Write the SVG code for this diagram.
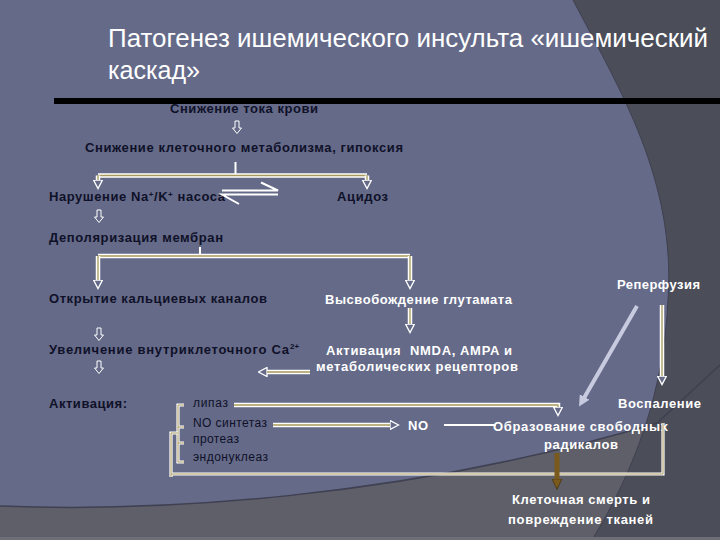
<svg xmlns="http://www.w3.org/2000/svg" width="720" height="540" viewBox="0 0 720 540">
<defs>
<style>
.dk{font-family:"Liberation Sans",Arial,sans-serif;font-weight:bold;font-size:13px;fill:#0f1128}
.wt{font-family:"Liberation Sans",Arial,sans-serif;font-weight:bold;font-size:13px;fill:#ffffff}
.it{font-family:"Liberation Sans",Arial,sans-serif;font-size:12px;fill:#0f1128}
.sup{font-family:"Liberation Sans",Arial,sans-serif;font-weight:bold;font-size:8px;fill:#0f1128}
.ttl{font-family:"Liberation Sans Narrow","Liberation Sans",Arial,sans-serif;font-size:25px;fill:#ffffff}
.o{fill:none;stroke:#ffffff;stroke-width:4.5}
.c{fill:none;stroke:#a8985a;stroke-width:1.3}
.ob{fill:none;stroke:#ffffff;stroke-width:3.2}
.cb{fill:none;stroke:#a8985a;stroke-width:1}
.w{fill:none;stroke:#ffffff;stroke-width:2}
</style>
<marker id="hw" viewBox="0 0 10 10" markerWidth="10" markerHeight="10" markerUnits="userSpaceOnUse" refX="0.5" refY="5" orient="auto">
<path d="M0.5,0.5 L9,5 L0.5,9.5 Z" fill="#656a88" stroke="#ffffff" stroke-width="1.3"/>
</marker>
<marker id="lg" viewBox="0 0 10 10" markerWidth="11" markerHeight="11" markerUnits="userSpaceOnUse" refX="1" refY="5" orient="auto">
<path d="M0,0 L10,5 L0,10 Z" fill="#c8cbe0"/>
</marker>
<marker id="br" viewBox="0 0 10 10" markerWidth="11" markerHeight="11" markerUnits="userSpaceOnUse" refX="1" refY="5" orient="auto">
<path d="M0,0.5 L9.5,5 L0,9.5 Z" fill="#7a5a1c" stroke="#4a3810" stroke-width="0.8"/>
</marker>
<path id="sa" d="M-2,0 h4 v7 h2.5 l-4.5,5.5 l-4.5,-5.5 h2.5 z" fill="none" stroke="#ffffff" stroke-width="1"/>
</defs>

<g id="background">
<rect width="720" height="540" fill="#656a88"/>
<path d="M0,506 C150,512 400,500 657,423 L720,365 L720,540 L0,540 Z" fill="#5e5f69"/>
<path d="M573,0 C620,90 676,180 668,300 C664,390 636,468 592,540 L720,540 L720,0 Z" fill="#4b4d58"/>
<path d="M0,506 C150,512 400,500 657,423 L720,365" fill="none" stroke="#3f4152" stroke-width="1.5"/>
<path d="M573,0 C620,90 676,180 668,300 C664,390 636,468 592,540" fill="none" stroke="#3f4152" stroke-width="1"/>
<rect x="0" y="537" width="720" height="3" fill="#6d6e78"/>
</g>

<g id="title">
<text class="ttl" x="108" y="47" textLength="600" lengthAdjust="spacingAndGlyphs">Патогенез ишемического инсульта «ишемический</text>
<text class="ttl" x="108" y="79" textLength="92" lengthAdjust="spacingAndGlyphs">каскад»</text>
</g>

<g id="n1"><text class="dk" x="170" y="113" textLength="148">Снижение тока крови</text></g>
<rect id="bar" x="54" y="98" width="666" height="6" fill="#000000"/>
<g id="n2"><text class="dk" x="85" y="152" textLength="318">Снижение клеточного метаболизма, гипоксия</text></g>
<g id="n3"><text class="dk" x="49" y="201" textLength="176">Нарушение Na<tspan style="font-size:8px" dy="-4">+</tspan><tspan dy="4">/K</tspan><tspan style="font-size:8px" dy="-4">+</tspan><tspan dy="4"> насоса</tspan></text></g>
<g id="n4"><text class="dk" x="337" y="201" textLength="51">Ацидоз</text></g>
<g id="n5"><text class="dk" x="49" y="242" textLength="174">Деполяризация мембран</text></g>
<g id="n6"><text class="dk" x="49" y="303" textLength="218">Открытие кальциевых каналов</text></g>
<g id="n7"><text class="wt" x="325" y="304" textLength="187">Высвобождение глутамата</text></g>
<g id="n8"><text class="dk" x="49" y="354" textLength="240">Увеличение внутриклеточного Са</text><text class="sup" x="290" y="349">2+</text></g>
<g id="n9">
<text class="wt" x="326" y="355" textLength="186" xml:space="preserve">Активация  NMDA, AMPA и</text>
<text class="wt" x="316" y="371" textLength="202">метаболических рецепторов</text>
</g>
<g id="n10"><text class="dk" x="49" y="408" textLength="78">Активация:</text></g>
<g id="n11">
<text class="it" x="193" y="407" textLength="35">липаз</text>
<text class="it" x="193" y="427" textLength="74">NO синтетаз</text>
<text class="it" x="193" y="443" textLength="46">протеаз</text>
<text class="it" x="193" y="461" textLength="75">эндонуклеаз</text>
</g>
<g id="n12"><text class="wt" x="408" y="430" textLength="20">NO</text></g>
<g id="n13">
<text class="wt" x="493" y="431" textLength="175">Образование свободных</text>
<text class="wt" x="544" y="449" textLength="74">радикалов</text>
</g>
<g id="n14">
<text class="wt" x="512" y="504" textLength="138">Клеточная смерть и</text>
<text class="wt" x="508" y="524" textLength="145">повреждение тканей</text>
</g>
<g id="n15"><text class="wt" x="617" y="289" textLength="83">Реперфузия</text></g>
<g id="n16"><text class="wt" x="618" y="408" textLength="83">Воспаление</text></g>

<g id="connectors">
<use href="#sa" x="237" y="121"/>
<use href="#sa" x="99" y="210"/>
<use href="#sa" x="99" y="328"/>
<use href="#sa" x="99" y="361"/>

<path class="w" d="M235.5,162 V174"/>
<path class="o" d="M98,175.5 H367"/><path class="c" d="M98,175.5 H367"/>
<path class="o" d="M98,175.5 V180" marker-end="url(#hw)"/><path class="c" d="M98,175.5 V180"/>
<path class="o" d="M367,175.5 V180" marker-end="url(#hw)"/><path class="c" d="M367,175.5 V180"/>

<path class="w" d="M222,190.5 H278 L261,182.5"/>
<path class="w" d="M278,194.5 H222 L239,204"/>

<path class="w" d="M200,247 V256"/>
<path class="o" d="M98,256 H410"/><path class="c" d="M98,256 H410"/>
<path class="o" d="M98,256 V280" marker-end="url(#hw)"/><path class="c" d="M98,256 V280"/>
<path class="o" d="M410,256 V280" marker-end="url(#hw)"/><path class="c" d="M410,256 V280"/>

<path class="o" d="M410,308 V324" marker-end="url(#hw)"/><path class="c" d="M410,308 V324"/>
<path class="o" d="M310,372 H267" marker-end="url(#hw)"/><path class="c" d="M310,372 H267"/>

<path class="o" d="M234,405 H558 V407" marker-end="url(#hw)"/><path class="c" d="M234,405 H558 V407"/>
<path class="o" d="M273,425 H390" marker-end="url(#hw)"/><path class="c" d="M273,425 H390"/>
<path class="w" d="M444,425 H496"/>

<path class="ob" d="M184,405 H178 V462 H184 M178,427 H184 M178,443 H184"/>
<path class="cb" d="M184,405 H178 V462 H184 M178,427 H184 M178,443 H184"/>
<path class="ob" d="M178,433 H171 V477 M171,474 H663 V423"/>
<path class="cb" d="M178,433 H171 V477 M171,474 H663 V423"/>

<path class="o" d="M662,305 V376" marker-end="url(#hw)"/><path class="c" d="M662,305 V376"/>
<path d="M637,306 L584,398" fill="none" stroke="#c8cbe0" stroke-width="4" marker-end="url(#lg)"/>
<path d="M557,453 V480" fill="none" stroke="#7a5a1c" stroke-width="5" marker-end="url(#br)"/>
</g>
</svg>
